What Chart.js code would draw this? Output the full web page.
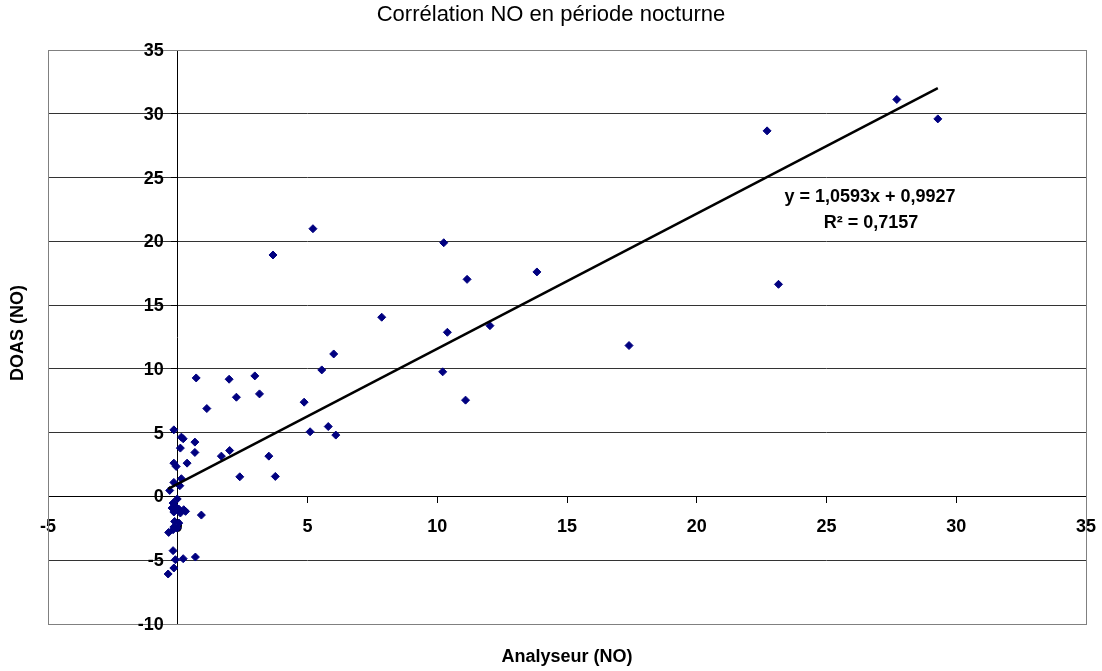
<!DOCTYPE html>
<html>
<head>
<meta charset="utf-8">
<script src="https://cdn.jsdelivr.net/npm/chart.js@4.4.1/dist/chart.umd.min.js"></script>
<style>
  html, body { margin: 0; padding: 0; background: #fff; }
  #wrap { width: 1102px; height: 671px; }
</style>
</head>
<body>
<div id="wrap"><canvas id="c" width="1102" height="671"></canvas></div>
<script>
// ---- Data ----
const chartTitle = "Corrélation NO en période nocturne";
const xTitle = "Analyseur (NO)";
const yTitle = "DOAS (NO)";
const analyseurNO = [
  27.71, 29.29, 22.71, 23.15, 13.84, 17.39, 5.21, 3.67, 10.25, 11.15,
  7.86, 10.39, 12.03, 6.01, 5.55, 10.21, 1.98, 2.97, 2.26, 3.15,
  1.12, 4.87, 11.09, 5.10, 5.80, 6.09, 1.68, 2.00, 3.51, 2.39,
  3.76, 0.71, -0.15, 0.14, 0.21, 0.66, 0.10, 0.66, -0.15, -0.06,
  0.36, -0.15, 0.14, 0.08, -0.31, -0.02, -0.18, -0.09, -0.22, 0.04,
  0.23, 0.30, -0.15, 0.10, 0.91, -0.12, 0.04, -0.15, -0.02, -0.35,
  -0.18, -0.18, -0.09, 0.21, 0.68, -0.15, -0.37
];
const doasNO = [
  31.12, 29.60, 28.66, 16.63, 17.60, 11.83, 20.99, 18.93, 19.89, 17.02,
  14.05, 12.87, 13.39, 11.17, 9.92, 9.77, 9.19, 9.45, 7.78, 8.04,
  6.89, 7.39, 7.55, 5.07, 5.48, 4.81, 3.16, 3.60, 3.16, 1.54,
  1.57, 9.29, 5.22, 4.65, 4.52, 4.26, 3.79, 3.45, 2.61, 2.35,
  2.61, 1.10, 1.39, 0.84, 0.47, -0.20, -0.52, -0.78, -0.91, -0.99,
  -1.04, -1.17, -1.22, -1.30, -1.46, -1.96, -2.09, -2.40, -2.48, -2.82,
  -2.61, -4.25, -4.96, -4.88, -4.75, -5.61, -6.08
];
const trendSlope = 1.0593;
const trendIntercept = 0.9927;
const rSquared = "0,7157";
const xTicks = [-5, 0, 5, 10, 15, 20, 25, 30, 35];
const yTicks = [-10, -5, 0, 5, 10, 15, 20, 25, 30, 35];

// ---- Derived structures ----
const points = analyseurNO.map((x, i) => ({ x: x, y: doasNO[i] }));
const xMinData = Math.min(...analyseurNO);
const xMaxData = Math.max(...analyseurNO);
const trendPoints = [xMinData, xMaxData].map(x => ({ x: x, y: trendSlope * x + trendIntercept }));
const fmt = v => v.toString().replace('.', ',');
const eqText = "y = " + fmt(trendSlope) + "x + " + fmt(trendIntercept);
const r2Text = "R² = " + rSquared;

const FONT = "'Liberation Sans', Arial, sans-serif";
const TICK_FONT = "bold 18px " + FONT;

const decorPlugin = {
  id: 'decor',
  afterDraw(chart) {
    const ctx = chart.ctx;
    const a = chart.chartArea;
    const xs = chart.scales.x, ys = chart.scales.y;
    ctx.save();
    // plot area border
    ctx.strokeStyle = '#808080';
    ctx.lineWidth = 1;
    ctx.strokeRect(Math.round(a.left) + 0.5, Math.round(a.top) + 0.5,
                   Math.round(a.right - a.left), Math.round(a.bottom - a.top));
    ctx.fillStyle = '#000';
    // y tick labels, right-aligned just left of the y axis tick marks (axis crosses at x = 0)
    ctx.font = TICK_FONT;
    ctx.textAlign = 'right';
    ctx.textBaseline = 'middle';
    const axisX = xs.getPixelForValue(0);
    yTicks.forEach(v => {
      ctx.fillText(String(v), axisX - 14, ys.getPixelForValue(v) + 1);
    });
    // title
    ctx.textAlign = 'center';
    ctx.font = "normal 22px " + FONT;
    ctx.fillText(chartTitle, 551, 15);
    // x title
    ctx.font = "bold 18px " + FONT;
    ctx.fillText(xTitle, (a.left + a.right) / 2, 657);
    // y title
    ctx.save();
    ctx.translate(18, (a.top + a.bottom) / 2 - 4);
    ctx.rotate(-Math.PI / 2);
    ctx.fillText(yTitle, 0, 0);
    ctx.restore();
    // equation label
    ctx.font = "bold 18px " + FONT;
    ctx.fillText(eqText, 870, 197);
    ctx.fillText(r2Text, 871, 223);
    ctx.restore();
  }
};

new Chart(document.getElementById('c'), {
  type: 'scatter',
  data: {
    datasets: [
      {
        label: 'DOAS',
        data: points,
        pointStyle: 'rectRot',
        pointRadius: 4,
        pointBorderWidth: 1,
        backgroundColor: '#000080',
        borderColor: '#000080',
        showLine: false,
        order: 2
      },
      {
        label: 'Linéaire',
        data: trendPoints,
        type: 'line',
        showLine: true,
        borderColor: '#000',
        borderWidth: 2.5,
        pointRadius: 0,
        fill: false,
        order: 1
      }
    ]
  },
  options: {
    responsive: false,
    animation: false,
    devicePixelRatio: 1,
    layout: { padding: { left: 48, right: 16, top: 50, bottom: 47 } },
    plugins: {
      legend: { display: false },
      title: { display: false },
      tooltip: { enabled: false }
    },
    scales: {
      x: {
        type: 'linear',
        position: { y: 0 },
        min: -5, max: 35,
        afterBuildTicks: s => { s.ticks = xTicks.map(v => ({ value: v })); },
        afterFit: s => { s.paddingLeft = 0; s.paddingRight = 0; },
        grid: { drawOnChartArea: false, drawTicks: true, tickLength: 6, color: '#000', tickColor: '#000' },
        border: { display: true, color: '#000', width: 1 },
        ticks: {
          color: '#000',
          font: { family: FONT, size: 18, weight: 'bold' },
          padding: 14,
          maxRotation: 0,
          autoSkip: false
        }
      },
      y: {
        type: 'linear',
        position: { x: 0 },
        min: -10, max: 35,
        afterBuildTicks: s => { s.ticks = yTicks.map(v => ({ value: v })); },
        afterFit: s => { s.paddingTop = 0; s.paddingBottom = 0; },
        grid: { drawOnChartArea: true, drawTicks: true, tickLength: 6, color: '#333', tickColor: '#000' },
        border: { display: true, color: '#000', width: 1 },
        ticks: {
          display: false,
          autoSkip: false
        }
      }
    }
  },
  plugins: [decorPlugin]
});
</script>
</body>
</html>
